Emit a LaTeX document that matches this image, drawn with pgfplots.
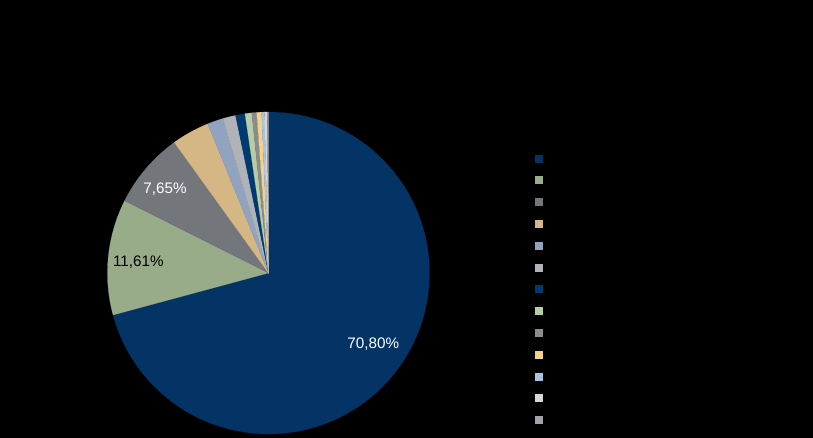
\documentclass[border=0pt]{standalone}
\usepackage{pgfplots}
\pgfplotsset{compat=1.18}
\usepackage{fontspec}
\setmainfont{Liberation Sans}
\definecolor{pieA}{RGB}{4,52,102}
\definecolor{pieB}{RGB}{152,172,138}
\definecolor{pieC}{RGB}{115,118,122}
\definecolor{pieD}{RGB}{212,183,132}
\definecolor{pieE}{RGB}{145,163,190}
\definecolor{pieF}{RGB}{175,178,182}
\definecolor{pieG}{RGB}{0,58,112}
\definecolor{pieH}{RGB}{185,205,165}
\definecolor{pieI}{RGB}{140,140,140}
\definecolor{pieJ}{RGB}{245,210,140}
\definecolor{pieK}{RGB}{170,195,225}
\definecolor{pieL}{RGB}{215,215,215}
\definecolor{pieM}{RGB}{160,163,168}
\newcommand\cum{0}
\newcommand\slice[2]{%
  \pgfmathsetmacro\sa{90-3.6*\cum}%
  \pgfmathsetmacro\sb{90-3.6*(\cum+#1)}%
  \edef\doplot{\noexpand\addplot[fill=#2, draw=#2, line width=0.2pt, domain=\sb:\sa, samples=90] ({cos(x)},{sin(x)}) -- (axis cs:0,0) -- cycle;}%
  \doplot
  \addlegendentry{\strut}%
  \pgfmathsetmacro\sn{\cum+#1}%
  \xdef\cum{\sn}%
}
\begin{document}
\begin{tikzpicture}
\begin{axis}[
  scale only axis, width=813bp, height=438bp,
  xmin=-1.6677, xmax=3.3820, ymin=-1.0248, ymax=1.6957,
  hide axis, clip=false,
  legend style={at={(rel axis cs:0.6574,0.6642)}, anchor=north west,
    draw=none, fill=none, inner sep=0pt, row sep=0pt,
    nodes={inner sep=0pt, minimum height=21.8bp, text=black}},
  legend image code/.code={\fill[#1] (0bp,-3.5bp) rectangle (7bp,3.5bp);},
]
\fill[black] (rel axis cs:0,0) rectangle (rel axis cs:1,1);
\slice{70.80}{pieA}
\slice{11.61}{pieB}
\slice{7.65}{pieC}
\slice{3.78}{pieD}
\slice{1.60}{pieE}
\slice{1.28}{pieF}
\slice{0.95}{pieG}
\slice{0.67}{pieH}
\slice{0.50}{pieI}
\slice{0.47}{pieJ}
\slice{0.30}{pieK}
\slice{0.27}{pieL}
\slice{0.12}{pieM}
\node[text=white, anchor=base, inner sep=0pt, font=\fontsize{15.3}{17}\selectfont] at (axis cs:0.651,-0.4677) {70,80\%};
\node[text=black, anchor=base, inner sep=0pt, font=\fontsize{15.3}{17}\selectfont] at (axis cs:-0.8087,0.0391) {11,61\%};
\node[text=white, anchor=base, inner sep=0pt, font=\fontsize{15.3}{17}\selectfont] at (axis cs:-0.643,0.495) {7,65\%};
\end{axis}
\end{tikzpicture}
\end{document}
